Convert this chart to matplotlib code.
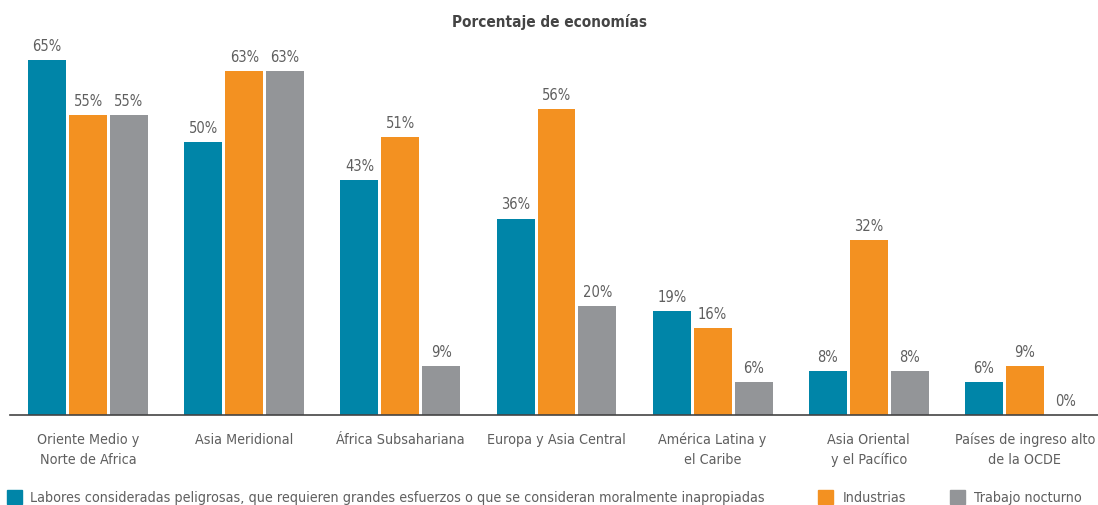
import numpy as np
import matplotlib
matplotlib.use('Agg')
import matplotlib.pyplot as plt
from matplotlib.patches import Rectangle

# share of economies with restrictions on women's work, by region
regions = ['Oriente Medio y\nNorte de Africa', 'Asia Meridional', 'África Subsahariana',
           'Europa y Asia Central', 'América Latina y\nel Caribe', 'Asia Oriental\ny el Pacífico',
           'Países de ingreso alto\nde la OCDE']
peligrosas = [65, 50, 43, 36, 19, 8, 6]
industrias = [55, 63, 51, 56, 16, 32, 9]
nocturno = [55, 63, 9, 20, 6, 8, 0]

series_names = ['Labores consideradas peligrosas, que requieren grandes esfuerzos o que se consideran moralmente inapropiadas',
                'Industrias', 'Trabajo nocturno']
colors = ['#0085A8', '#F39121', '#939598']
text_col = '#5f5f5f'

plt.rcParams['font.family'] = ['DejaVu Sans']
plt.rcParams['font.stretch'] = 'condensed'

fig = plt.figure(figsize=(10.98, 5.06), dpi=100)
ax = fig.add_axes([10 / 1098, 1 - 416 / 506, 1093 / 1098, 382 / 506])

x = np.arange(len(regions))
w = 0.243
step = 0.262
for k, vals in enumerate([peligrosas, industrias, nocturno]):
    xs = x + (k - 1) * step
    ax.bar(xs, vals, width=w, color=colors[k], zorder=2)
    for xi, v in zip(xs, vals):
        ax.text(xi, v + 1.3, '{}%'.format(v), ha='center', va='bottom',
                fontsize=10.5, color=text_col)

ax.set_xlim(-0.5, 6.5)
ax.set_ylim(0, 70)
ax.set_yticks([])
ax.set_xticks(x)
ax.set_xticklabels(regions, fontsize=10.3, color=text_col, linespacing=1.55)
ax.tick_params(axis='x', length=0, pad=12)
for s in ['top', 'right', 'left']:
    ax.spines[s].set_visible(False)
ax.spines['bottom'].set_color('#444444')
ax.spines['bottom'].set_linewidth(1.2)

fig.text(0.5, 1 - 22 / 506, 'Porcentaje de economías', ha='center', va='center',
         fontsize=11, color='#444444', fontweight='semibold')

# legend drawn by hand along the bottom edge
leg_y = 1 - 498 / 506
leg = [(7, 30), (818, 843), (950, 974)]
for (bx, tx), name, c in zip(leg, series_names, colors):
    fig.patches.append(Rectangle((bx / 1098, leg_y - 7 / 506), 15 / 1098, 14 / 506,
                                 transform=fig.transFigure, color=c))
    fig.text(tx / 1098, leg_y, name, ha='left', va='center', fontsize=10.3, color=text_col)

fig.savefig('out.png', dpi=100)
